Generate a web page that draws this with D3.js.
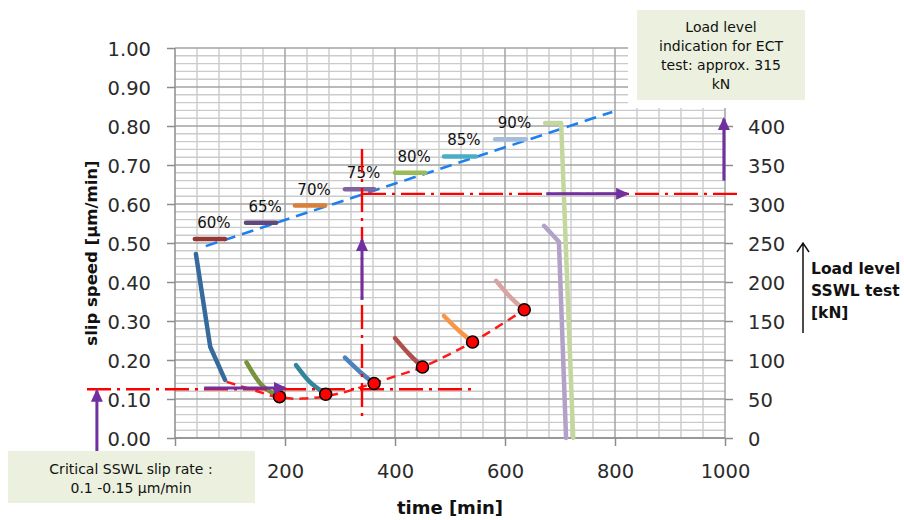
<!DOCTYPE html>
<html>
<head>
<meta charset="utf-8">
<script src="https://cdn.jsdelivr.net/npm/d3@7"></script>
<style>
  html, body { margin: 0; padding: 0; background: #fff; }
  svg { display: block; }
  text { font-family: "DejaVu Sans", Verdana, sans-serif; }
</style>
</head>
<body>
<svg id="chart" width="904" height="520"></svg>
<script>
// ---- Axis ticks ----
const speedTicks = [0, 0.1, 0.2, 0.3, 0.4, 0.5, 0.6, 0.7, 0.8, 0.9, 1.0];
const loadTicks = [0, 50, 100, 150, 200, 250, 300, 350, 400];
const timeTicks = [0, 200, 400, 600, 800, 1000];
// the origin label sits under the note box, so it is left blank
const timeTickLabels = ["", "200", "400", "600", "800", "1000"];

// ---- Load steps of the SSWL test (right axis, kN) ----
const levelLabels = ["60%", "65%", "70%", "75%", "80%", "85%", "90%"];
const levelLoad   = [255, 276, 298, 319, 340, 361, 383];
const levelStart  = [36, 129, 218, 309, 400, 489, 582];
const levelEnd    = [91, 184, 273, 362, 455, 547, 638];
const levelColors = ["#953735", "#5f497a", "#d9803a", "#8064a2", "#9bbb59", "#4bacc6", "#a5bddb"];

// final load step, held and then released at failure
const finalTime = [673, 702, 724];
const finalLoad = [404, 404, 0];
const finalColor = "#c4d79f";

// ---- Slip speed per load step (left axis, µm/min) ----
const slipTime = [
  [38, 64, 91],
  [130, 155, 173, 182],
  [220, 245, 268],
  [309, 336, 362],
  [400, 427, 450],
  [489, 518, 541],
  [584, 612, 635],
  [671, 698, 711]
];
const slipSpeed = [
  [0.472, 0.234, 0.149],
  [0.194, 0.140, 0.119, 0.113],
  [0.187, 0.144, 0.119],
  [0.206, 0.170, 0.140],
  [0.256, 0.213, 0.182],
  [0.313, 0.273, 0.246],
  [0.403, 0.358, 0.329],
  [0.544, 0.503, 0.0]
];
const slipColors = ["#376a9c", "#77933c", "#31859c", "#4f81bd", "#b0504c", "#f79646", "#d9a3a1", "#b3a2c7"];

// end-of-step slip speeds and their trend
const pointTime  = [190, 274, 362, 450, 541, 635];
const pointSpeed = [0.106, 0.112, 0.140, 0.182, 0.246, 0.329];
const trendTime  = [94, 142, 190, 232, 274, 324, 362, 409, 450, 541, 635];
const trendSpeed = [0.144, 0.123, 0.104, 0.101, 0.107, 0.124, 0.141, 0.162, 0.182, 0.246, 0.329];

// load trend (right axis, kN)
const loadTrendTime = [56, 795];
const loadTrendLoad = [246, 418];

// reference levels
const criticalSlip = 0.125;   // µm/min
const ectLoad = 313;          // kN
const ectTime = 340;          // min

// ---- Layout ----
const svg = d3.select("#chart");
const x  = d3.scaleLinear().domain([0, 1000]).range([175, 725]);
const y  = d3.scaleLinear().domain([0, 1]).range([438, 48]);
const yR = d3.scaleLinear().domain([0, 500]).range([438, 48]);

// ---- Grid ----
const grid = svg.append("g");
const vLines = d3.range(0, 1001, 40);
const hLines = d3.range(0, 51).map(i => i / 50);
const isMajorV = t => t % 200 === 0;
const isMajorH = v => Math.round(v * 50) % 5 === 0;

grid.selectAll(".vmin").data(vLines.filter(t => !isMajorV(t))).join("line")
  .attr("x1", d => x(d)).attr("x2", d => x(d)).attr("y1", y(0)).attr("y2", y(1))
  .attr("stroke", "#cbcbcb").attr("stroke-width", 1.4);
grid.selectAll(".hmin").data(hLines.filter(v => !isMajorH(v))).join("line")
  .attr("x1", x(0)).attr("x2", x(1000)).attr("y1", d => y(d)).attr("y2", d => y(d))
  .attr("stroke", "#cbcbcb").attr("stroke-width", 1.4);
grid.selectAll(".hmaj").data(hLines.filter(isMajorH)).join("line")
  .attr("x1", x(0)).attr("x2", x(1000)).attr("y1", d => y(d)).attr("y2", d => y(d))
  .attr("stroke", "#a3a3a3").attr("stroke-width", 1.5);
grid.selectAll(".vmaj").data(vLines.filter(isMajorV)).join("line")
  .attr("x1", d => x(d)).attr("x2", d => x(d)).attr("y1", y(0)).attr("y2", y(1))
  .attr("stroke", d => d === 0 ? "#8c8c8c" : "#a3a3a3").attr("stroke-width", 1.5);
grid.append("line").attr("x1", x(0)).attr("x2", x(1000)).attr("y1", y(0)).attr("y2", y(0))
  .attr("stroke", "#8c8c8c").attr("stroke-width", 1.5);

// ---- Axes ----
function styleAxis(g) {
  g.select(".domain").remove();
  g.selectAll(".tick line").attr("stroke", "#8c8c8c").attr("stroke-width", 1.5);
  g.selectAll(".tick text").attr("fill", "#2b2b2b")
    .style("font-family", "'DejaVu Sans', Verdana, sans-serif").style("font-size", "19.5px");
}
svg.append("g").attr("transform", `translate(${x(0)},0)`)
  .call(d3.axisLeft(y).tickValues(speedTicks).tickFormat(d3.format(".2f")).tickSize(8).tickPadding(16))
  .call(styleAxis)
  .call(g => g.selectAll(".tick text").attr("dy", "0.38em"));
svg.append("g").attr("transform", `translate(${x(1000)},0)`)
  .call(d3.axisRight(yR).tickValues(loadTicks).tickSize(8).tickPadding(15))
  .call(styleAxis)
  .call(g => g.selectAll(".tick text").attr("dy", "0.38em"));
svg.append("g").attr("transform", `translate(0,${y(0)})`)
  .call(d3.axisBottom(x).tickValues(timeTicks)
    .tickFormat((d, i) => timeTickLabels[i]).tickSize(8).tickPadding(18))
  .call(styleAxis)
  .call(g => g.selectAll(".tick text").filter(function () { return this.textContent === ""; }).remove());

// axis titles
svg.append("text")
  .attr("transform", `translate(97,${(y(0) + y(1)) / 2 + 10}) rotate(-90)`)
  .attr("text-anchor", "middle").attr("font-weight", "bold").attr("font-size", 16.5)
  .attr("fill", "#111").text("slip speed [µm/min]");
svg.append("text")
  .attr("x", 450).attr("y", 514).attr("text-anchor", "middle")
  .attr("font-weight", "bold").attr("font-size", 18).attr("fill", "#111").text("time [min]");

// right-side axis caption with arrow
const cap = svg.append("text").attr("x", 811).attr("y", 274)
  .attr("font-weight", "bold").attr("font-size", 15.5).attr("fill", "#111");
["Load level", "SSWL test", "[kN]"].forEach((s, i) =>
  cap.append("tspan").attr("x", 811).attr("dy", i === 0 ? 0 : 22).text(s));
svg.append("path").attr("d", "M803,333 V243 M797,252 L803,243 L809,252")
  .attr("fill", "none").attr("stroke", "#111").attr("stroke-width", 1.5);

// ---- ECT note box (covers the upper right of the grid) ----
svg.append("rect").attr("x", 628).attr("y", 0).attr("width", 185).attr("height", 108).attr("fill", "#fff");
svg.append("rect").attr("x", 637).attr("y", 10).attr("width", 168).attr("height", 90).attr("fill", "#ebf1de");
const ect = svg.append("text").attr("x", 721).attr("y", 32).attr("text-anchor", "middle")
  .attr("font-size", 14).attr("fill", "#111");
["Load level", "indication for ECT", "test: approx. 315", "kN"].forEach((s, i) =>
  ect.append("tspan").attr("x", 721).attr("dy", i === 0 ? 0 : 19).text(s));

// ---- Marks ----
const lineLoad = d3.line().x(d => x(d[0])).y(d => yR(d[1]));
const lineSpeed = d3.line().x(d => x(d[0])).y(d => y(d[1]));

// load trend
svg.append("path").attr("d", lineLoad(d3.zip(loadTrendTime, loadTrendLoad)))
  .attr("fill", "none").attr("stroke", "#1f7ff0").attr("stroke-width", 2.6)
  .attr("stroke-dasharray", "12,7");

// load steps
svg.selectAll(".step").data(levelLoad).join("line")
  .attr("x1", (d, i) => x(levelStart[i])).attr("x2", (d, i) => x(levelEnd[i]))
  .attr("y1", d => yR(d)).attr("y2", d => yR(d))
  .attr("stroke", (d, i) => levelColors[i]).attr("stroke-width", 4.5).attr("stroke-linecap", "round");
svg.selectAll(".steplab").data(levelLabels).join("text")
  .attr("x", (d, i) => (x(levelStart[i]) + x(levelEnd[i])) / 2 + 4)
  .attr("y", (d, i) => yR(levelLoad[i]) - 11)
  .attr("text-anchor", "middle").attr("font-size", 15).attr("fill", "#111").text(d => d);

// final load step
svg.append("path").attr("d", lineLoad(d3.zip(finalTime, finalLoad)))
  .attr("fill", "none").attr("stroke", finalColor).attr("stroke-width", 4.5)
  .attr("stroke-linecap", "round").attr("stroke-linejoin", "round");

// slip speed curves
const smooth = d3.line().x(d => x(d[0])).y(d => y(d[1])).curve(d3.curveMonotoneX);
svg.selectAll(".slip").data(slipTime).join("path")
  .attr("d", (d, i) => (i === 0 || i === 7 ? lineSpeed : smooth)(d3.zip(d, slipSpeed[i])))
  .attr("fill", "none").attr("stroke", (d, i) => slipColors[i]).attr("stroke-width", 4.5)
  .attr("stroke-linecap", "round").attr("stroke-linejoin", "round");

// trend of end-of-step slip speed
svg.append("path")
  .attr("d", d3.line().x(d => x(d[0])).y(d => y(d[1])).curve(d3.curveCatmullRom)(d3.zip(trendTime, trendSpeed)))
  .attr("fill", "none").attr("stroke", "#ff1a1a").attr("stroke-width", 2.5)
  .attr("stroke-dasharray", "9,6");

// reference dash-dot lines
const dashDot = "24,6,3,6";
function refLine(x1, y1, x2, y2) {
  svg.append("line").attr("x1", x1).attr("y1", y1).attr("x2", x2).attr("y2", y2)
    .attr("stroke", "#ff0000").attr("stroke-width", 2.4).attr("stroke-dasharray", dashDot);
}
refLine(x(-160), y(criticalSlip), x(540), y(criticalSlip));
refLine(x(ectTime), y(0.741), x(ectTime), y(0.046));
refLine(x(ectTime), yR(ectLoad), x(1022), yR(ectLoad));

// end-of-step points
svg.selectAll(".pt").data(pointTime).join("circle")
  .attr("cx", d => x(d)).attr("cy", (d, i) => y(pointSpeed[i])).attr("r", 6)
  .attr("fill", "#ff0000").attr("stroke", "#000").attr("stroke-width", 1.5);

// ---- Purple pointer arrows ----
const defs = svg.append("defs");
defs.append("marker").attr("id", "head").attr("markerUnits", "userSpaceOnUse")
  .attr("markerWidth", 13).attr("markerHeight", 12).attr("refX", 11).attr("refY", 6)
  .attr("orient", "auto")
  .append("path").attr("d", "M0,0 L13,6 L0,12 Z").attr("fill", "#7030a0");
function arrow(x1, y1, x2, y2) {
  svg.append("line").attr("x1", x1).attr("y1", y1).attr("x2", x2).attr("y2", y2)
    .attr("stroke", "#7030a0").attr("stroke-width", 3).attr("marker-end", "url(#head)");
}
arrow(x(-142), 452, x(-142), y(0.121));
arrow(x(53), y(0.128), x(200), y(0.128));
arrow(x(ectTime), y(0.354), x(ectTime), y(0.508));
arrow(x(675), yR(ectLoad), x(822), yR(ectLoad));
arrow(x(998), yR(330), x(998), yR(409));

// ---- Critical slip note box ----
svg.append("rect").attr("x", 8).attr("y", 451).attr("width", 247).attr("height", 52).attr("fill", "#ebf1de");
const crit = svg.append("text").attr("x", 131).attr("y", 474).attr("text-anchor", "middle")
  .attr("font-size", 14).attr("fill", "#111");
["Critical SSWL slip rate :", "0.1 -0.15 µm/min"].forEach((s, i) =>
  crit.append("tspan").attr("x", 131).attr("dy", i === 0 ? 0 : 19).text(s));
</script>
</body>
</html>
